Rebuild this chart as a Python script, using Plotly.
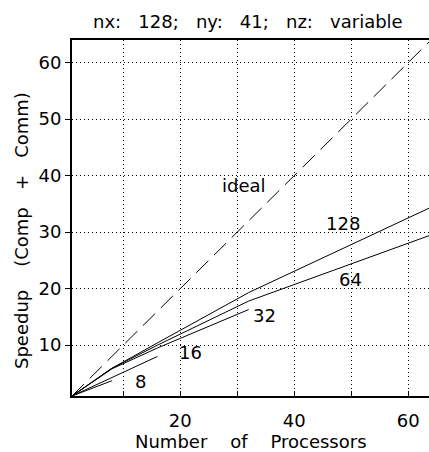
import plotly.graph_objects as go

procs = [1, 2, 4, 8, 16, 32, 64]
ideal_x = [1, 64]
ideal_y = [1, 64]
sp_8 = [1, 1.39, 2.16, 3.7]
sp_16 = [1, 1.47, 2.4, 4.3, 8.0]
sp_32 = [1, 1.7, 3.1, 5.8, 9.5, 16.3]
sp_64 = [1, 1.7, 3.1, 5.9, 10.0, 17.8, 29.5]
sp_128 = [1, 1.7, 3.1, 5.9, 10.4, 19.3, 34.4]

labels = ["8", "16", "32", "64", "128", "ideal"]
label_x = [13.1, 21.8, 34.7, 49.8, 48.6, 31.1]
label_y = [3.5, 8.7, 15.3, 21.7, 31.6, 38.2]

x_ticks = [10, 20, 30, 40, 50, 60]
x_ticktext = ["", "20", "", "40", "", "60"]
y_ticks = [10, 20, 30, 40, 50, 60]

title = "nx:   128;   ny:   41;   nz:   variable"
x_title = "Number    of    Processors"
y_title = "Speedup    (Comp   +   Comm)"

FONT = "DejaVu Sans"
FS = 18
fig = go.Figure()
line = dict(color="black", width=1)
fig.add_trace(go.Scatter(x=ideal_x, y=ideal_y, mode="lines",
                         line=dict(color="black", width=1, dash="17px,8px")))
for s in [sp_8, sp_16, sp_32, sp_64, sp_128]:
    fig.add_trace(go.Scatter(x=procs[:len(s)], y=s, mode="lines", line=line))

for t, x, y in zip(labels, label_x, label_y):
    fig.add_annotation(x=x, y=y, text=t, showarrow=False,
                       font=dict(family=FONT, size=FS, color="black"))

fig.add_annotation(x=0.5, y=1, xref="paper", yref="paper", yshift=19, xshift=-3,
                   xanchor="center", yanchor="middle",
                   text=title, showarrow=False,
                   font=dict(family=FONT, size=FS, color="black"))
fig.add_annotation(x=0.5, y=0, xref="paper", yref="paper", yshift=-45,
                   xanchor="center", yanchor="middle",
                   text=x_title, showarrow=False,
                   font=dict(family=FONT, size=FS, color="black"))
fig.add_annotation(x=0, y=0.4635, xref="paper", yref="paper", xshift=-50,
                   xanchor="center", yanchor="middle",
                   text=y_title, textangle=-90, showarrow=False,
                   font=dict(family=FONT, size=FS, color="black"))

fig.update_layout(
    width=429, height=452,
    margin=dict(l=72, r=0, t=40, b=56, autoexpand=False),
    paper_bgcolor="white", plot_bgcolor="white",
    showlegend=False,
)
fig.update_xaxes(range=[1, 63.65], tickvals=x_ticks, ticktext=x_ticktext,
                 ticks="inside", ticklen=5, tickcolor="black", tickwidth=1,
                 showline=True, linecolor="black", linewidth=2, mirror=True,
                 showgrid=True, gridcolor="black", gridwidth=1, griddash="1px,3px",
                 zeroline=False, automargin=False, ticklabelstandoff=7,
                 tickfont=dict(family=FONT, size=FS, color="black"))
fig.update_yaxes(range=[1, 64], tickvals=y_ticks,
                 ticks="outside", ticklen=5, tickcolor="black", tickwidth=1,
                 showline=True, linecolor="black", linewidth=2,
                 showgrid=True, gridcolor="black", gridwidth=1, griddash="1px,3px",
                 zeroline=False, automargin=False,
                 tickfont=dict(family=FONT, size=FS, color="black"))

fig.write_html("out.html", config={"displayModeBar": False},
               post_script="document.body.style.margin='0';document.body.style.overflow='hidden';")
